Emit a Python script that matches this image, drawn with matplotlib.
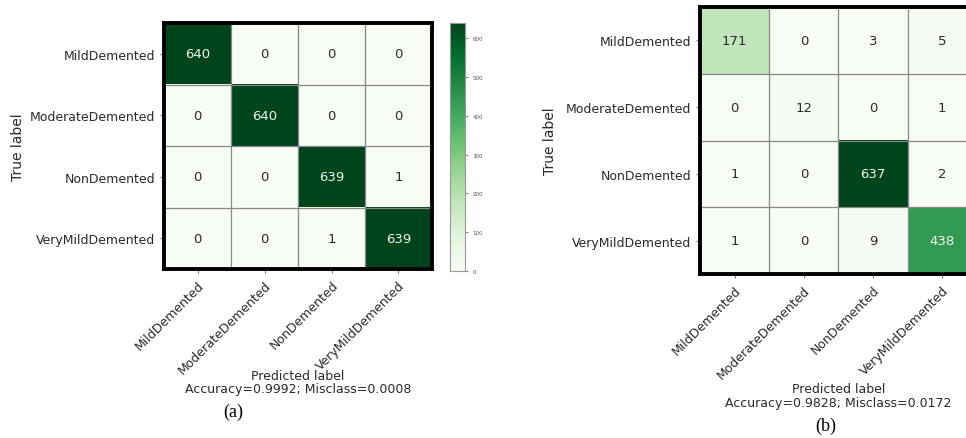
import matplotlib.pyplot as plt
import numpy as np

classes = ["MildDemented", "ModerateDemented", "NonDemented", "VeryMildDemented"]

cm_a = np.array([[640, 0, 0, 0],
                 [0, 640, 0, 0],
                 [0, 0, 639, 1],
                 [0, 0, 1, 639]])
acc_a, mis_a = 0.9992, 0.0008

cm_b = np.array([[171, 0, 3, 5],
                 [0, 12, 0, 1],
                 [1, 0, 637, 2],
                 [1, 0, 9, 438]])
acc_b, mis_b = 0.9828, 0.0172

fig = plt.figure(figsize=(9.66, 4.39), dpi=100)
fig.patch.set_facecolor("white")

TXT = "#2a2a2a"


def plot_cm(ax, cm, acc, mis, ylab_x, xlab_y):
    im = ax.imshow(cm, cmap="Greens", interpolation="nearest", aspect="auto")
    n = len(classes)
    ticks = np.arange(n)
    ax.set_xticks(ticks)
    ax.set_xticklabels(classes, rotation=45, ha="right", rotation_mode="anchor",
                       fontsize=9, color=TXT)
    ax.set_yticks(ticks)
    ax.set_yticklabels(classes, fontsize=9, color=TXT)
    ax.tick_params(length=3, color="#777777")

    # thin grey lines between the cells
    ax.set_xticks(np.arange(-0.5, n, 1), minor=True)
    ax.set_yticks(np.arange(-0.5, n, 1), minor=True)
    ax.grid(which="minor", color="#888888", linewidth=0.9)
    ax.tick_params(which="minor", length=0)

    thresh = cm.max() / 2
    for i in range(n):
        for j in range(n):
            ax.text(j, i, "{:,}".format(cm[i, j]), ha="center", va="center",
                    fontsize=9.5,
                    color="#f0f5ee" if cm[i, j] > thresh else TXT)

    for s in ax.spines.values():
        s.set_linewidth(2.8)
        s.set_color("black")

    ax.set_ylabel("True label", fontsize=10, color=TXT)
    ax.yaxis.set_label_coords(ylab_x, 0.5)
    ax.set_xlabel("Predicted label\nAccuracy={:0.4f}; Misclass={:0.4f}".format(acc, mis),
                  fontsize=9, color=TXT, linespacing=1.05)
    ax.xaxis.set_label_coords(0.5, xlab_y)
    return im


ax_a = fig.add_axes([0.1698, 0.385, 0.2774, 0.560])
im_a = plot_cm(ax_a, cm_a, acc_a, mis_a, -0.52, -0.405)
cax = fig.add_axes([0.4658, 0.3804, 0.0155, 0.565])
cb = fig.colorbar(im_a, cax=cax)
cb.set_ticks([0, 100, 200, 300, 400, 500, 600])
cb.ax.tick_params(labelsize=4, length=2, color="#888888", labelcolor="#555555")
cb.outline.set_edgecolor("#999999")
cb.outline.set_linewidth(0.8)

ax_b = fig.add_axes([0.7246, 0.3736, 0.2867, 0.608])
plot_cm(ax_b, cm_b, acc_b, mis_b, -0.515, -0.405)

fig.text(233 / 966, 1 - 412 / 439, "(a)", ha="center", va="center",
         fontsize=13, family="Liberation Serif")
fig.text(826 / 966, 1 - 426 / 439, "(b)", ha="center", va="center",
         fontsize=13, family="Liberation Serif")

fig.savefig("out.png", dpi=100, facecolor="white")
